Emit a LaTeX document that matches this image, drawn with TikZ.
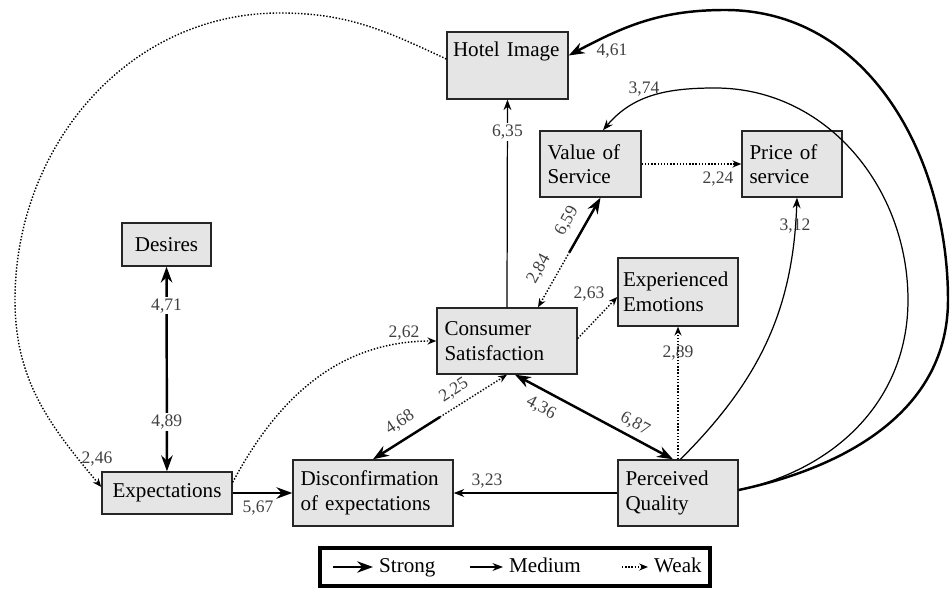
\documentclass[tikz,border=0pt]{standalone}
\usepackage{fontspec}
\setmainfont{Liberation Serif}
\usetikzlibrary{arrows.meta,calc}
\definecolor{boxgray}{gray}{0.9}
\begin{document}
\begin{tikzpicture}
\tikzstyle{factor}=[draw=black!85,line width=0.8pt,fill=boxgray,align=left,inner xsep=0.15cm,font=\fontsize{12}{14}\selectfont]
\tikzstyle{lbl}=[font=\fontsize{10}{12}\selectfont,text=black!75,inner sep=1pt]
\tikzstyle{key}=[font=\fontsize{12}{14}\selectfont,anchor=west,text height=8.5pt,text depth=2.5pt]
\tikzstyle{strong}=[line width=1.4pt,>={Stealth[length=9pt,width=6.5pt]}]
\tikzstyle{medium}=[line width=0.7pt,>={Stealth[length=6pt,width=4.5pt]}]
\tikzstyle{weak}=[line width=0.8pt,densely dotted,>={Stealth[length=5pt,width=4pt]}]
\useasboundingbox (0,0) rectangle (19.04,11.8);
\node[factor,text width=2.18cm,inner xsep=0.12cm,text height=11pt,text depth=21pt,inner ysep=3pt](hi) at (10.15,10.49) {Hotel Image};
\node[factor,text width=1.72cm,minimum height=1.32cm](vos) at (11.81,8.52) {Value of\\Service};
\node[factor,text width=1.70cm,minimum height=1.32cm](price) at (15.84,8.52) {Price of\\service};
\node[factor,text width=1.48cm,minimum height=0.86cm,align=center](des) at (3.33,6.91) {Desires};
\node[factor,text width=2.2cm,inner xsep=0.1cm,minimum height=1.36cm](ee) at (13.56,5.96) {Experienced\\Emotions};
\node[factor,text width=2.5cm,minimum height=1.32cm](cs) at (10.14,4.98) {Consumer\\Satisfaction};
\node[factor,text width=2.3cm,minimum height=0.84cm,align=center](expc) at (3.34,1.94) {Expectations};
\node[factor,text width=2.9cm,minimum height=1.32cm](disc) at (7.46,1.94) {Disconfirmation\\of expectations};
\node[factor,text width=2.1cm,minimum height=1.32cm](pq) at (13.56,1.94) {Perceived\\Quality};
\coordinate (c1) at (18.16,5.8);
\coordinate (c2) at (14.3,10.04);
\coordinate (c3) at (18.96,5.8);
\coordinate (c4) at (14.5,11.6);
\coordinate (c5) at (5.6,11.54);
\coordinate (c6) at (0.3,5.8);
\coordinate (m1) at ($(disc.north)!0.5!(cs.south)$);
\coordinate (m2) at ($([xshift=0.2cm]vos.south)!0.5!([xshift=0.62cm]cs.north)$);
\draw[weak,->] ([yshift=0.13cm]hi.west) to[out=155,in=0] (c5) to[out=180,in=90] (c6) to[out=-90,in=130] ([yshift=0.12cm]expc.west);
\draw[strong,<->] (des) -- (expc) node[lbl,fill=white,pos=0.19](l471){4,71} node[lbl,fill=white,pos=0.757](l489){4,89};
\draw[strong,->] (expc) -- (disc);
\draw[weak,->] ([yshift=-0.22cm]expc.north east) to[out=62,in=180] (cs.west);
\draw[strong,<-] (disc.north) -- (m1);
\draw[weak,->] (m1) -- (cs.south);
\draw[strong,<->] ([xshift=0.16cm]cs.south) -- ([xshift=-0.1cm]pq.north);
\draw[weak,->] (pq.north) -- (ee.south);
\draw[weak,->] ([yshift=0.05cm]cs.east) -- ([yshift=-0.1cm]ee.west);
\draw[medium,->] (pq.west) -- (disc.east);
\draw[medium,->] (cs.north) -- (hi.south) node[lbl,fill=white,pos=0.842](l635){6,35};
\draw[strong,->] (m2) -- ([xshift=0.2cm]vos.south);
\draw[weak,<-] ([xshift=0.62cm]cs.north) -- (m2);
\draw[weak,->] (vos) -- (price);
\draw[medium,->] ([xshift=0.05cm]pq.north) to[out=45,in=-92] ([xshift=0.1cm]price.south);
\draw[medium,->] ([yshift=0.06cm]pq.east) to[out=12,in=-90] (c1) to[out=90,in=0] (c2) to[out=180,in=50] ([xshift=0.25cm]vos.north);
\draw[strong,->] ([yshift=0.06cm]pq.east) to[out=12,in=-90] (c3) to[out=90,in=0] (c4) to[out=180,in=28] ([yshift=0.2cm]hi.east);
\node[lbl](l246) at (1.94,2.62){2,46};
\node[lbl](l567) at (5.16,1.64){5,67};
\node[lbl](l262) at (8.08,5.14){2,62};
\node[lbl,rotate=33](l468) at (8.0,3.35){4,68};
\node[lbl,rotate=33](l225) at (9.08,3.99){2,25};
\node[lbl,rotate=-28](l436) at (10.82,3.64){4,36};
\node[lbl,rotate=-28](l687) at (12.7,3.32){6,87};
\node[lbl](l289) at (13.56,4.74){2,89};
\node[lbl](l263) at (11.78,5.92){2,63};
\node[lbl,rotate=61](l659) at (11.34,7.38){6,59};
\node[lbl,rotate=61](l284) at (10.78,6.42){2,84};
\node[lbl](l224) at (14.36,8.22){2,24};
\node[lbl](l312) at (15.9,7.28){3,12};
\node[lbl](l374) at (12.88,10.02){3,74};
\node[lbl](l461) at (12.24,10.78){4,61};
\node[lbl](l323) at (9.74,2.18){3,23};
\node[draw,line width=2.3pt,minimum width=7.8cm,minimum height=0.76cm](legend) at (10.3,0.46){};
\node[key](lstrong) at (7.46,0.46){Strong};
\node[key](lmedium) at (10.06,0.46){Medium};
\node[key](lweak) at (12.96,0.46){Weak};
\coordinate (a1) at (6.66,0.46);
\coordinate (a2) at (9.4,0.46);
\coordinate (a3) at (12.44,0.46);
\draw[strong,->] (a1) -- (lstrong);
\draw[medium,->] (a2) -- (lmedium);
\draw[weak,->] (a3) -- (lweak);
\end{tikzpicture}
\end{document}
